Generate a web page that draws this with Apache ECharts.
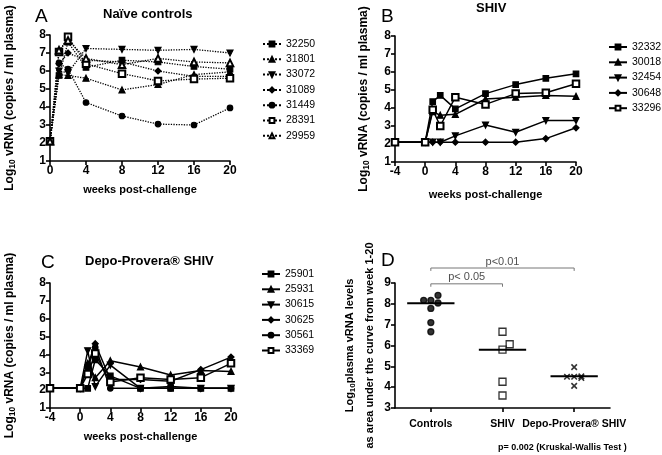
<!DOCTYPE html>
<html><head><meta charset="utf-8">
<script src="https://cdn.jsdelivr.net/npm/echarts@6/dist/echarts.min.js"></script>
<style>html,body{margin:0;padding:0;background:#fff}#c{width:662px;height:455px}</style>
</head><body><div id="c"></div>
<script>
// ---------- DATA ----------
const weeksA = [0, 1, 2, 4, 8, 12, 16, 20];
const weeksBC = [-4, 0, 1, 2, 4, 8, 12, 16, 20];

const namesA = ['32250', '31801', '33072', '31089', '31449', '28391', '29959'];
const a32250 = [2.1, 5.75, 7.6, 6.2, 6.6, 6.5, 6.25, 6.1];
const a31801 = [2.1, 5.8, 5.75, 5.6, 4.95, 5.25, 5.8, 5.95];
const a33072 = [2.1, 6.0, 5.9, 7.25, 7.2, 7.15, 7.2, 7.0];
const a31089 = [2.1, 6.4, 7.0, 6.6, 6.5, 6.0, 5.7, 5.7];
const a31449 = [2.1, 6.45, 6.1, 4.25, 3.5, 3.05, 3.0, 3.95];
const a28391 = [2.1, 7.05, 7.9, 6.4, 5.85, 5.45, 5.55, 5.6];
const a29959 = [2.1, 7.15, 7.7, 6.7, 6.35, 6.7, 6.5, 6.45];

const namesB = ['32332', '30018', '32454', '30648', '33296'];
const b32332 = [2.1, 2.1, 4.35, 4.7, 3.95, 4.8, 5.3, 5.65, 5.9];
const b30018 = [2.1, 2.1, 3.8, 3.6, 3.65, 4.5, 4.6, 4.7, 4.65];
const b32454 = [2.1, 2.1, 2.1, 2.1, 2.45, 3.05, 2.65, 3.3, 3.3];
const b30648 = [2.1, 2.1, 2.1, 2.1, 2.1, 2.1, 2.1, 2.3, 2.9];
const b33296 = [2.1, 2.1, 3.9, 3.0, 4.6, 4.2, 4.8, 4.85, 5.35];

const namesC = ['25901', '25931', '30615', '30625', '30561', '33369'];
const c25901 = [2.1, 2.1, 2.1, 3.7, 2.8, 2.1, 2.1, 2.1, 2.1];
const c25931 = [2.1, 2.1, 3.5, 2.7, 3.65, 3.3, 2.85, 3.1, 3.05];
const c30615 = [2.1, 2.1, 4.2, 2.2, 3.4, 2.1, 2.2, 2.1, 2.1];
const c30625 = [2.1, 2.1, 3.4, 4.6, 2.6, 2.6, 2.5, 3.15, 3.85];
const c30561 = [2.1, 2.1, 3.3, 4.4, 2.1, 2.1, 2.1, 2.1, 2.1];
const c33369 = [2.1, 2.1, 2.9, 4.05, 2.45, 2.7, 2.6, 2.7, 3.5];

const groupsD = ['Controls', 'SHIV', 'Depo-Provera® SHIV'];
const dControls = [8.17, 8.17, 8.41, 8.04, 7.78, 7.1, 6.66];
const dControlsJitter = [-0.1, 0, 0.1, 0.1, 0, 0, 0];
const dShiv = [6.66, 6.06, 5.8, 4.26, 3.6];
const dShivJitter = [0, 0.1, 0, 0, 0];
const dDepo = [4.96, 4.5, 4.5, 4.52, 4.44, 4.06];
const dDepoJitter = [0, -0.1, 0, 0.1, 0.1, 0];
const mediansD = [8.03, 5.8, 4.52];
const pBrackets = [{ from: 0, to: 1, y: 8.96, text: 'p< 0.05' }, { from: 0, to: 2, y: 9.72, text: 'p<0.01' }];
const captionD = 'p= 0.002 (Kruskal-Wallis Test )';

const ticksY_ABC = [1, 8];
const ticksY_D = [3, 9];

// ---------- STYLE ----------
const FONT = 'Liberation Sans, Arial, sans-serif';
const BLK = '#000';
const symA = [
  { symbol: 'rect', size: 5.5 }, { symbol: 'triangle', size: 6 }, { symbol: 'triangle', size: 6, rot: 180 },
  { symbol: 'diamond', size: 6 }, { symbol: 'circle', size: 5.5 }, { symbol: 'emptyRect', size: 6.5 }, { symbol: 'emptyTriangle', size: 6.5 }
];
const symB = [symA[0], symA[1], symA[2], symA[3], symA[5]];
const symC = [symA[0], symA[1], symA[2], symA[3], symA[4], symA[5]];

function lineSeries(name, xs, ys, sym, idx, dotted) {
  return {
    name, type: 'line', xAxisIndex: idx, yAxisIndex: idx,
    data: xs.map((x, i) => [x, ys[i]]),
    symbol: sym.symbol, symbolSize: sym.size, symbolRotate: sym.rot || 0,
    showAllSymbol: true,
    lineStyle: { color: BLK, width: dotted ? 1.3 : 1.5, type: dotted ? 'dotted' : 'solid' },
    itemStyle: { color: BLK, borderColor: BLK, borderWidth: 1.2 },
    emphasis: { disabled: true }, animation: false, z: 3
  };
}

const axisCommon = {
  axisLine: { show: true, onZero: false, lineStyle: { color: BLK, width: 1.6 } },
  axisTick: { show: true, length: 4, lineStyle: { color: BLK, width: 1.6 } },
  axisLabel: { color: BLK, fontFamily: FONT, fontWeight: 'bold', fontSize: 12, margin: 4 },
  splitLine: { show: false }
};
const yName = '{b|Log}{s|10}{b| vRNA (copies / ml plasma)}';
const yRich = {
  b: { fontFamily: FONT, fontWeight: 'bold', fontSize: 12, color: BLK },
  s: { fontFamily: FONT, fontWeight: 'bold', fontSize: 8.5, color: BLK, padding: [6, 0, 0, 0] }
};
const xNameStyle = { fontFamily: FONT, fontWeight: 'bold', fontSize: 11, color: BLK };

function xVal(grid, min, gap) {
  return Object.assign({}, axisCommon, {
    gridIndex: grid, type: 'value', min: min, max: 20, interval: 4,
    name: 'weeks post-challenge', nameLocation: 'middle', nameGap: gap, nameTextStyle: xNameStyle
  });
}
function yVal(grid, gap) {
  return Object.assign({}, axisCommon, {
    gridIndex: grid, type: 'value', min: ticksY_ABC[0], max: ticksY_ABC[1], interval: 1,
    name: yName, nameLocation: 'middle', nameGap: gap, nameTextStyle: { rich: yRich }
  });
}

const series = [];
const listsA = [a32250, a31801, a33072, a31089, a31449, a28391, a29959];
namesA.forEach((n, i) => series.push(lineSeries(n, weeksA, listsA[i], symA[i], 0, true)));
const listsB = [b32332, b30018, b32454, b30648, b33296];
namesB.forEach((n, i) => series.push(lineSeries(n, weeksBC, listsB[i], symB[i], 1, false)));
const listsC = [c25901, c25931, c30615, c30625, c30561, c33369];
namesC.forEach((n, i) => series.push(lineSeries(n, weeksBC, listsC[i], symC[i], 2, false)));

// Panel D (value x axis index 4, hidden; category x axis index 3 visible)
function scatterD(vals, jit, gi, sym, size) {
  return {
    type: 'scatter', xAxisIndex: 4, yAxisIndex: 3, animation: false,
    data: vals.map((v, i) => [gi + jit[i], v]),
    symbol: sym, symbolSize: size,
    itemStyle: { color: sym === 'circle' ? BLK : '#fff', borderColor: BLK, borderWidth: 1.3 },
    emphasis: { disabled: true }, z: 4
  };
}
series.push(scatterD(dControls, dControlsJitter, 0, 'circle', 6));
series.push(scatterD(dShiv, dShivJitter, 1, 'rect', 7));
series.push(Object.assign(scatterD(dDepo, dDepoJitter, 2, 'path://M0,0L10,10M10,0L0,10', 5.5),
  { itemStyle: { color: 'none', borderColor: BLK, borderWidth: 1.6 } }));
mediansD.forEach((m, i) => series.push({
  type: 'line', xAxisIndex: 4, yAxisIndex: 3, animation: false, symbol: 'none',
  data: [[i - 0.33, m], [i + 0.33, m]], lineStyle: { color: BLK, width: 2 }, z: 5,
  emphasis: { disabled: true }
}));
pBrackets.forEach(b => {
  series.push({
    type: 'line', xAxisIndex: 4, yAxisIndex: 3, animation: false, symbol: 'none', clip: false,
    data: [[b.from, b.y - 0.14], [b.from, b.y], [b.to, b.y], [b.to, b.y - 0.14]],
    lineStyle: { color: '#777', width: 1 }, emphasis: { disabled: true }
  });
  series.push({
    type: 'scatter', xAxisIndex: 4, yAxisIndex: 3, animation: false, clip: false,
    symbolSize: 0, data: [[(b.from + b.to) / 2, b.y]],
    label: { show: true, position: 'top', distance: 1, formatter: b.text, fontFamily: FONT, fontSize: 11, color: '#222' },
    emphasis: { disabled: true }
  });
});

function legend(names, left, top) {
  return {
    data: names, orient: 'vertical', left: left, top: top, itemWidth: 18, itemHeight: 6, itemGap: 1.3,
    textStyle: { fontFamily: FONT, fontSize: 10.5, color: BLK, lineHeight: 14 }, selectedMode: false,
    padding: 0
  };
}

const option = {
  backgroundColor: '#fff',
  animation: false,
  grid: [
    { left: 50, top: 35, width: 180, height: 126 },
    { left: 395, top: 36, width: 181, height: 126 },
    { left: 50, top: 283, width: 181, height: 125 },
    { left: 395, top: 283, width: 215, height: 125 }
  ],
  xAxis: [
    xVal(0, 0, 23.5),
    xVal(1, -4, 27.5),
    xVal(2, -4, 23.5),
    Object.assign({}, axisCommon, {
      gridIndex: 3, type: 'category', data: groupsD, boundaryGap: true,
      axisTick: { show: true, alignWithLabel: true, length: 4, lineStyle: { color: BLK, width: 1.6 } },
      axisLabel: { color: BLK, fontFamily: FONT, fontWeight: 'bold', fontSize: 10.5, margin: 11, interval: 0 }
    }),
    { gridIndex: 3, type: 'value', min: -0.5, max: 2.5, show: false }
  ],
  yAxis: [
    yVal(0, 33), yVal(1, 23.5), yVal(2, 33),
    Object.assign({}, axisCommon, {
      gridIndex: 3, type: 'value', min: ticksY_D[0], max: ticksY_D[1], interval: 1,
      name: '{b|Log}{s|10}{b|plasma vRNA levels}\n{b|as area under the curve from week 1-20}',
      nameLocation: 'middle', nameGap: 15,
      nameTextStyle: { rich: { b: { fontFamily: FONT, fontWeight: 'bold', fontSize: 11, color: BLK, lineHeight: 20 },
        s: { fontFamily: FONT, fontWeight: 'bold', fontSize: 8, color: BLK, padding: [6, 0, 0, 0] } } }
    })
  ],
  legend: [legend(namesA, 262, 37), legend(namesB, 608, 40), legend(namesC, 261, 267)],
  series: series,
  graphic: [
    { type: 'text', left: 35, top: 7, style: { text: 'A', font: '19px ' + FONT, fill: BLK } },
    { type: 'text', left: 103, top: 8, style: { text: 'Naïve controls', font: 'bold 13px ' + FONT, fill: BLK } },
    { type: 'text', left: 381, top: 7, style: { text: 'B', font: '19px ' + FONT, fill: BLK } },
    { type: 'text', left: 476, top: 2, style: { text: 'SHIV', font: 'bold 13px ' + FONT, fill: BLK } },
    { type: 'text', left: 41, top: 253, style: { text: 'C', font: '19px ' + FONT, fill: BLK } },
    { type: 'text', left: 85, top: 255, style: { text: 'Depo-Provera® SHIV', font: 'bold 13px ' + FONT, fill: BLK } },
    { type: 'text', left: 381, top: 251, style: { text: 'D', font: '19px ' + FONT, fill: BLK } },
    { type: 'text', left: 498, top: 443, style: { text: captionD, font: 'bold 9px ' + FONT, fill: BLK } }
  ]
};
echarts.init(document.getElementById('c'), null, { renderer: 'canvas' }).setOption(option);
</script></body></html>
